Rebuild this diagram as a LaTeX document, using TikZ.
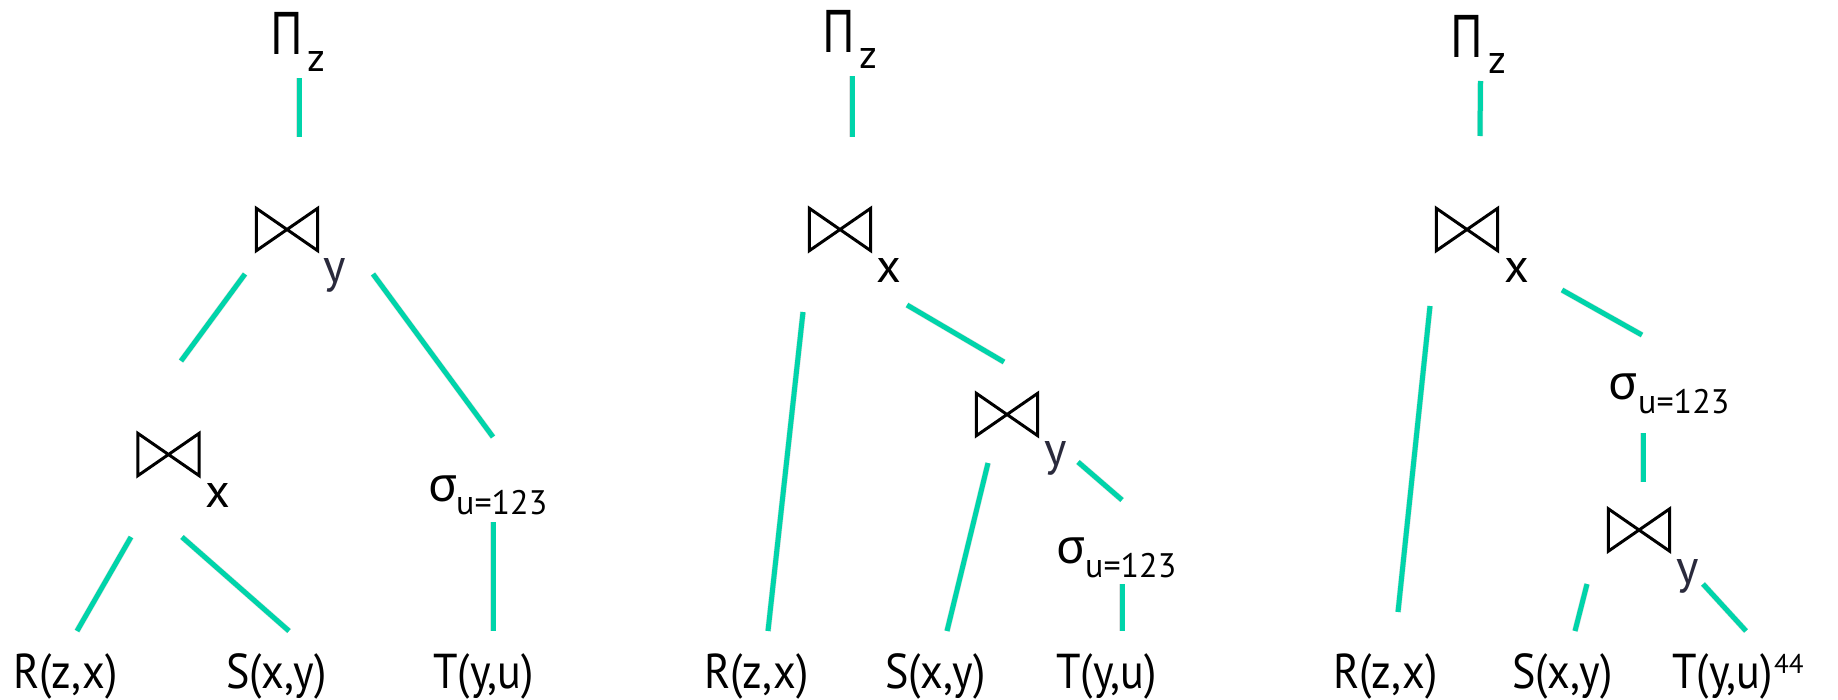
\documentclass[tikz,border=0pt]{standalone}
\usepackage{fontspec}
\setmainfont{PT Sans}
\newfontfamily\relfont[FakeStretch=0.9]{PT Sans}
\newfontfamily\greekfont{Noto Sans}
\definecolor{teal}{RGB}{0,212,170}
\definecolor{subgray}{RGB}{42,42,60}
\begin{document}
\begin{tikzpicture}[x=1pt,y=-1pt,
  txt/.style={inner sep=0pt, anchor=base west, text=black},
  rel/.style={txt, font=\relfont\fontsize{49}{58}\selectfont},
  op/.style={txt, font=\greekfont\fontsize{59}{70}\selectfont},
  sig/.style={txt, font=\greekfont\fontsize{48}{58}\selectfont},
  sub/.style={txt, font=\fontsize{40}{48}\selectfont},
  jsub/.style={txt, font=\fontsize{48}{58}\selectfont},
  csub/.style={txt, font=\fontsize{34}{40}\selectfont},
  joinbox/.style={minimum width=61pt, minimum height=42pt, inner sep=0pt},
  bow/.style={draw=black, line width=3pt, line join=miter},
  edge/.style={draw=teal, line width=5pt},
  shadow/.style={draw=black, opacity=0.12, line width=6pt, shift={(1.5,2.5)}}
]
\useasboundingbox (0,0) rectangle (1838,699);
\fill[white] (0,0) rectangle (1838,699);

% ---------------- Tree 1 ----------------
\node[op] (t1pi) at (270,54) {\scalebox{0.76}[1]{Π}};
\node[sub] (t1piz) at (307,71) {z};
\node[joinbox] (t1j1) at (287,229.5) {};
\node[jsub, text=subgray] (t1j1s) at (323,282) {y};
\node[joinbox] (t1j2) at (168.5,454.5) {};
\node[jsub] (t1j2s) at (205,507) {x};
\node[sig] (t1sig) at (428,501) {σ};
\node[csub] (t1sigs) at (456,514) {u=123};
\node[rel] (t1R) at (13,688) {R(z,x)};
\node[rel] (t1S) at (226,688) {S(x,y)};
\node[rel] (t1T) at (433,688) {T(y,u)};

\coordinate (t1a1) at (299,78);  \coordinate (t1a2) at (299,137);
\coordinate (t1b1) at (245,274); \coordinate (t1b2) at (181,361);
\coordinate (t1c1) at (373,274); \coordinate (t1c2) at (493,437);
\coordinate (t1d1) at (131,537); \coordinate (t1d2) at (77,631);
\coordinate (t1e1) at (182,537); \coordinate (t1e2) at (289,631);
\coordinate (t1f1) at (493,522); \coordinate (t1f2) at (493,631);

% ---------------- Tree 2 ----------------
\node[op] (t2pi) at (822,52) {\scalebox{0.76}[1]{Π}};
\node[sub] (t2piz) at (859,68) {z};
\node[joinbox] (t2j1) at (840,229.5) {};
\node[jsub] (t2j1s) at (876,282) {x};
\node[joinbox] (t2j2) at (1007,414.5) {};
\node[jsub, text=subgray] (t2j2s) at (1044,465) {y};
\node[sig] (t2sig) at (1056,563) {σ};
\node[csub] (t2sigs) at (1085,577) {u=123};
\node[rel] (t2R) at (704,688) {R(z,x)};
\node[rel] (t2S) at (885,688) {S(x,y)};
\node[rel] (t2T) at (1056,688) {T(y,u)};

\coordinate (t2a1) at (852,76);   \coordinate (t2a2) at (852,137);
\coordinate (t2b1) at (803,312);  \coordinate (t2b2) at (768,631);
\coordinate (t2c1) at (907,305);  \coordinate (t2c2) at (1004,362);
\coordinate (t2d1) at (988,463);  \coordinate (t2d2) at (947,631);
\coordinate (t2e1) at (1078,462); \coordinate (t2e2) at (1122,500);
\coordinate (t2f1) at (1122,584); \coordinate (t2f2) at (1122,631);

% ---------------- Tree 3 ----------------
\node[op] (t3pi) at (1450,57) {\scalebox{0.76}[1]{Π}};
\node[sub] (t3piz) at (1488,73) {z};
\node[joinbox] (t3j1) at (1467,229.5) {};
\node[jsub] (t3j1s) at (1504,282) {x};
\node[sig] (t3sig) at (1608,399) {σ};
\node[csub] (t3sigs) at (1638,413) {u=123};
\node[joinbox] (t3j2) at (1639,530) {};
\node[jsub, text=subgray] (t3j2s) at (1676,583) {y};
\node[rel] (t3R) at (1333,688) {R(z,x)};
\node[rel] (t3S) at (1512,688) {S(x,y)};
\node[rel] (t3T) at (1672,688) {T(y,u)};
\node[txt, font=\fontsize{27}{32}\selectfont] (pgno) at (1774,673) {44};

\coordinate (t3a1) at (1480.5,81); \coordinate (t3a2) at (1480,136);
\coordinate (t3b1) at (1430,306);  \coordinate (t3b2) at (1398,612);
\coordinate (t3c1) at (1562,290);  \coordinate (t3c2) at (1642,335);
\coordinate (t3d1) at (1643,433);  \coordinate (t3d2) at (1643,482);
\coordinate (t3e1) at (1587,584);  \coordinate (t3e2) at (1575,631);
\coordinate (t3f1) at (1703,584);  \coordinate (t3f2) at (1746,631);

% bowties
\foreach \j in {t1j1,t1j2,t2j1,t2j2,t3j1,t3j2}{
  \draw[bow] (\j.north west) -- (\j.south west) -- (\j.north east) -- (\j.south east) -- cycle;
}

% connectors
\foreach \t in {t1,t2,t3}{
  \foreach \e in {a,b,c,d,e,f}{
    \draw[shadow] (\t\e1) -- (\t\e2);
    \draw[edge] (\t\e1) -- (\t\e2);
  }
}
\end{tikzpicture}
\end{document}
